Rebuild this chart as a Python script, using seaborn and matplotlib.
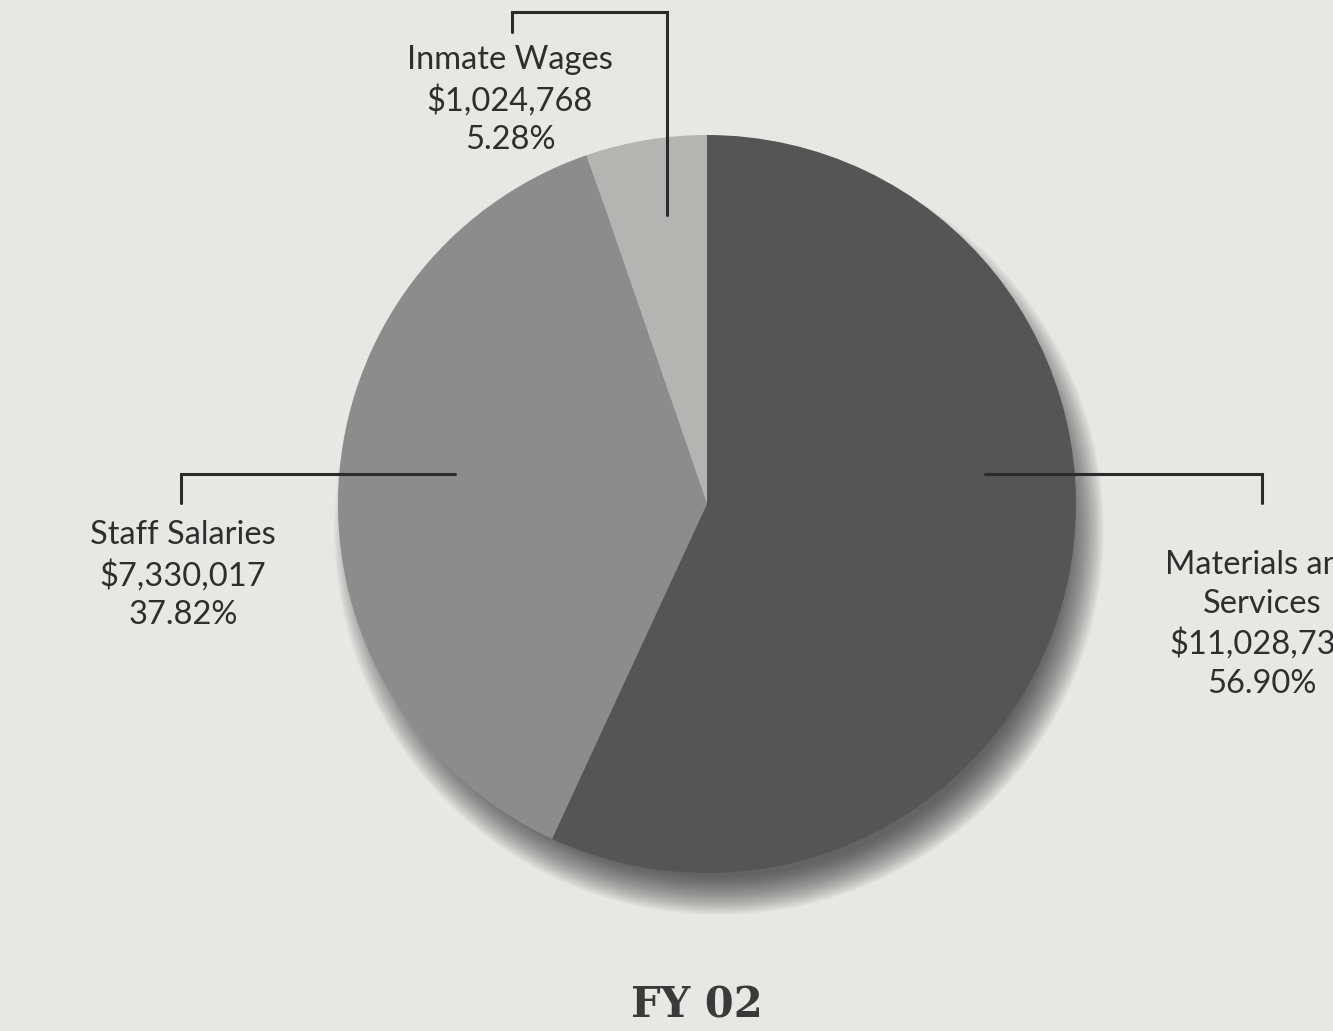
import matplotlib
matplotlib.use('Agg')
import matplotlib.pyplot as plt
import seaborn as sns
from matplotlib.patches import Circle

# Data
categories = ['Materials and\nServices', 'Staff Salaries', 'Inmate Wages']
amounts = [11028735, 7330017, 1024768]
amount_labels = ['$11,028,735', '$7,330,017', '$1,024,768']
pct_labels = ['56.90%', '37.82%', '5.28%']
colors = ['#555555', '#8c8c8c', '#b4b4b2']

sns.set_theme(style='white')
plt.rcParams['font.family'] = ['Lato', 'DejaVu Sans']

W, H = 1333, 1031
bg = '#e7e7e4'
fig = plt.figure(figsize=(W / 100, H / 100), dpi=100, facecolor=bg)
ax = fig.add_axes([0, 0, 1, 1])
ax.set_facecolor(bg)


def py(y):
    # pixel row (from top) to data y
    return H - y


cx, cy, r = 707, py(504), 369

# Soft drop shadow (lower right)
for i in range(36):
    rr = r + 16 - i * 1.1
    ax.add_patch(Circle((cx + 12, cy - 26), rr, color='#2a2a2a',
                        alpha=0.026, lw=0, zorder=1))

ax.pie(amounts, colors=colors, startangle=90, counterclock=False,
       center=(cx, cy), radius=r, frame=True,
       wedgeprops=dict(linewidth=0, zorder=2))
ax.set_xlim(0, W)
ax.set_ylim(0, H)
ax.set_aspect('equal')
ax.axis('off')

line_kw = dict(color='#2b2b2b', lw=2.2, zorder=5, solid_joinstyle='miter')

# Leader lines
ax.plot([667, 667, 512, 512], [py(215), py(12), py(12), py(32)], **line_kw)
ax.plot([455, 181, 181], [py(474), py(474), py(503)], **line_kw)
ax.plot([985, 1262, 1262], [py(474), py(474), py(503)], **line_kw)

text_kw = dict(ha='center', va='top', fontsize=23.5, color='#2e2e2e',
               linespacing=1.36, zorder=6)
label_pos = [(1262, 550), (183, 520), (510, 45)]
for cat, amt, pct, (x, y) in zip(categories, amount_labels, pct_labels, label_pos):
    ax.text(x, py(y), f'{cat}\n{amt}\n{pct}', **text_kw)

ax.text(697, py(1005), 'FY 02', ha='center', va='center', fontsize=30,
        fontweight='bold', family=['DejaVu Serif'], color='#3a3a3a')

fig.savefig('out.png', dpi=100, facecolor=bg)
